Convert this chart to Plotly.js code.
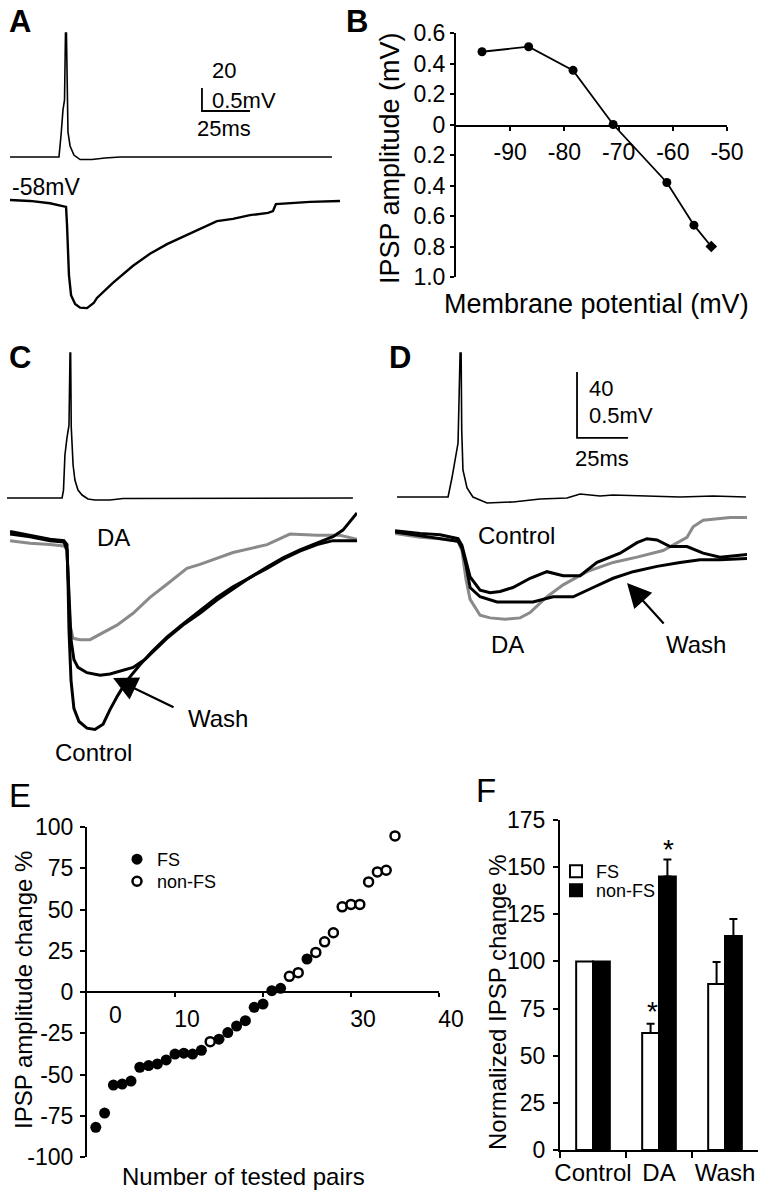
<!DOCTYPE html>
<html><head><meta charset="utf-8">
<script src="https://cdn.plot.ly/plotly-3.0.1.min.js"></script>
<style>html,body{margin:0;padding:0;background:#fff}</style>
</head><body>
<div id="chart" style="width:764px;height:1199px"></div>
<script>
// ================= DATA =================
// Panel A: paired recording, time (ms) / voltage (mV)
const aApTime   = [0, 25.5, 26.6, 27.6, 28.4, 28.9, 29.4, 29.7, 30.2, 31.3, 33.3, 36.5, 42.7, 49.5, 57.3, 167.7];
const aApVolt   = [0, 0, 19.1, 40.9, 49.6, 107.8, 107.8, 45.2, 21.7, 9.6, 1.7, -2.2, -2.2, -0.9, 0, 0];
const aIpspTime = [0, 10.4, 20.8, 27.6, 29.2, 29.7, 30.2, 30.7, 31.8, 33.9, 36.5, 40.1, 43.6, 45.3, 53.6, 64.1, 72.9, 81.8, 91.1, 99, 107.8, 116.1, 125, 134.4, 137, 138.5, 145.8, 156.3, 171.9];
const aIpspVolt = [0, -0.02, -0.07, -0.13, -0.15, -0.54, -1.09, -1.63, -2.07, -2.26, -2.34, -2.35, -2.24, -2.13, -1.80, -1.43, -1.17, -0.96, -0.78, -0.63, -0.46, -0.41, -0.33, -0.28, -0.24, -0.09, -0.07, -0.04, -0.02];

// Panel B: IPSP amplitude vs membrane potential
const bPotential = [-95.2, -86.6, -78.4, -71.0, -61.1, -56.1, -52.9];
const bAmplitude = [0.477, 0.51, 0.355, 0, -0.38, -0.66, -0.80];
const bYTickVals = [0.6, 0.4, 0.2, 0, -0.2, -0.4, -0.6, -0.8, -1.0];
const bYTickText = ['0.6', '0.4', '0.2', '0', '0.2', '0.4', '0.6', '0.8', '1.0'];
const bXTickVals = [-90, -80, -70, -60, -50];
const bXTickText = ['-90', '-80', '-70', '-60', '-50'];

// Panel C: FS pair (ms / mV)
const cApTime = [0, 27, 27.7, 28.4, 29.4, 30.4, 30.9, 31.2, 31.5, 32.4, 33.3, 34.8, 36.8, 39.7, 43.1, 50.5, 56.9, 169.6];
const cApVolt = [0, 0, 4.8, 26.1, 36.4, 44.2, 87.9, 87.9, 43, 20, 10.9, 4.8, 1.8, -0.6, -1.2, -1.2, -0.3, 0];
const cControlTime = [1.5, 11.3, 21.1, 27.9, 29.4, 29.9, 30.4, 31.4, 32.8, 35.3, 39.2, 43.1, 47.1, 50.5, 54.4, 58.8, 65.2, 71.1, 78.4, 86.3, 94.6, 102.9, 110.8, 119.1, 127.5, 135.3, 143.6, 152, 159.8, 164.7, 171.6];
const cControlVolt = [0.05, 0.02, -0.01, -0.02, -0.05, -0.32, -0.70, -1.08, -1.29, -1.39, -1.44, -1.45, -1.41, -1.30, -1.19, -1.08, -0.96, -0.86, -0.75, -0.65, -0.55, -0.45, -0.37, -0.30, -0.22, -0.15, -0.09, -0.04, 0.01, 0.06, 0.19];
const cWashTime = [1.5, 11.3, 21.1, 27.9, 29.4, 30.4, 31.4, 32.8, 34.8, 39.2, 45.6, 50.5, 55.4, 61.8, 67.6, 71.6, 78.4, 86.3, 94.6, 102.9, 110.8, 119.1, 127.5, 135.3, 143.6, 152, 159.8, 171.6];
const cWashVolt = [0.03, 0.01, -0.02, -0.03, -0.09, -0.47, -0.77, -0.92, -0.98, -1.02, -1.04, -1.03, -1.01, -0.98, -0.92, -0.86, -0.76, -0.66, -0.57, -0.47, -0.39, -0.30, -0.23, -0.16, -0.10, -0.05, -0.02, -0.02];
const cDaTime = [1.5, 11.3, 21.1, 27.9, 29.4, 30.4, 30.9, 32.4, 35.8, 40.7, 45.6, 53.9, 61.8, 70.1, 78.4, 88.2, 94.6, 110.8, 127.5, 138.7, 152, 163.2, 171.6];
const cDaVolt = [-0.02, -0.04, -0.05, -0.06, -0.09, -0.47, -0.66, -0.76, -0.77, -0.77, -0.73, -0.66, -0.57, -0.45, -0.35, -0.23, -0.20, -0.11, -0.05, 0.03, 0.02, 0.02, -0.01];

// Panel D: non-FS pair (ms / mV)
const dApTime = [1, 26, 27.9, 29.4, 30.9, 31.9, 32.4, 32.7, 33.3, 35.3, 38.2, 45.1, 57.8, 71.1, 84.3, 90.7, 100.5, 106.9, 123.5, 139.7, 155.9, 172];
const dApVolt = [0, 0, 11.5, 23.6, 32.7, 87.3, 87.3, 40.6, 16.4, 5.5, 0, -3.6, -3.0, -1.2, -0.6, 1.8, 0.6, 1.2, 0.6, 0, 0.6, 0];
const dDaTime = [0, 12.3, 22.1, 30.9, 32.8, 34.8, 36.8, 41.7, 46.6, 53.9, 61.3, 66.2, 74.5, 82.4, 94.1, 106.9, 118.6, 131.4, 143.1, 146.1, 151, 164.2, 172.5];
const dDaVolt = [0.02, -0.01, -0.02, -0.04, -0.11, -0.33, -0.48, -0.60, -0.62, -0.63, -0.62, -0.58, -0.46, -0.37, -0.27, -0.20, -0.16, -0.11, -0.01, 0.07, 0.12, 0.14, 0.14];
const dControlTime = [0, 12.3, 22.1, 30.9, 32.8, 34.8, 36.8, 41.7, 46.6, 51.5, 57.8, 66.2, 74.5, 82.4, 90.7, 99, 110.3, 118.6, 123.5, 128.4, 134.8, 143.1, 151, 159.3, 172.5];
const dControlVolt = [0.04, 0.02, 0.01, -0.02, -0.07, -0.18, -0.31, -0.41, -0.43, -0.42, -0.39, -0.32, -0.27, -0.30, -0.30, -0.20, -0.13, -0.05, -0.02, -0.03, -0.08, -0.08, -0.13, -0.16, -0.14];
const dWashTime = [0, 12.3, 22.1, 30.9, 32.8, 34.8, 36.8, 41.7, 50, 57.8, 67.6, 77.5, 87.3, 97.1, 106.9, 116.7, 128.4, 139.7, 149.5, 159.3, 172.5];
const dWashVolt = [0.03, 0, -0.02, -0.04, -0.09, -0.22, -0.39, -0.46, -0.50, -0.50, -0.50, -0.46, -0.46, -0.39, -0.32, -0.27, -0.23, -0.20, -0.18, -0.18, -0.17];

// Panel E: IPSP amplitude change per tested pair
const eFsPair = [1, 2, 3, 4, 5, 6, 7, 8, 9, 10, 11, 12, 13, 15, 16, 17, 18, 19, 20, 21, 22, 25];
const eFsChange = [-82, -73.4, -56.4, -55.8, -54, -45.6, -44.6, -43.6, -41.2, -37.6, -37.1, -37.6, -35.3, -28.6, -24.6, -20.6, -17.4, -9.3, -7.3, 0.8, 2.2, 20];
const eNonFsPair = [14, 23, 24, 26, 27, 28, 29, 30, 31, 32, 33, 34, 35];
const eNonFsChange = [-30.1, 9.5, 11.7, 24, 30.4, 35.9, 51.6, 53.1, 53.1, 66.7, 72.8, 73.8, 94.6];
const eYTickVals = [-100, -75, -50, -25, 0, 25, 50, 75, 100];
const eYTickText = ['-100', '-75', '-50', '-25', '0', '25', '50', '75', '100'];
const eXTickVals = [10, 20, 30, 40];
const eXTickText = ['10', '', '30', '40'];

// Panel F: normalized IPSP
const fConditions = ['Control', 'DA', 'Wash'];
const fFsMean = [100, 62, 88];
const fFsErr = [NaN, 5, 11.7];
const fNonFsMean = [100, 145, 113.5];
const fNonFsErr = [NaN, 9, 9];

// scale bars (size from the figure, anchor in trace units)
const scaleA = {t0: 100, v0: 40, dt: 25, dv: 20};
const scaleD = {t0: 89.2, v0: 35.8, dt: 25, dv: 40};

// ================= LAYOUT HELPERS =================
const W = 764, H = 1199;
const X = px => px / W;
const Y = py => 1 - py / H;
const dx = (a, b) => [X(a), X(b)];
const dy = (top, bottom) => [Y(bottom), Y(top)];
const FONT = 'Liberation Sans, Arial, Helvetica, sans-serif';
const hid = {visible: false, fixedrange: true, showgrid: false, zeroline: false};
const axStyle = {showline: true, linecolor: '#000', linewidth: 2, ticks: 'outside', tickcolor: '#000', tickwidth: 2,
  showgrid: false, zeroline: false, fixedrange: true, tickfont: {family: FONT, size: 23, color: '#000'}};

function note(text, px, py, size, o) {
  return Object.assign({text: text, x: X(px), y: Y(py), xref: 'paper', yref: 'paper', showarrow: false,
    xanchor: 'left', yanchor: 'middle', font: {family: FONT, size: size || 23, color: '#000'}}, o || {});
}
const line = (w, c) => ({color: c || '#000', width: w});
const L = (x, y, xa, ya, w, c) => ({x: x, y: y, xaxis: xa, yaxis: ya, mode: 'lines', line: line(w, c),
  showlegend: false, hoverinfo: 'skip'});

// ================= TRACES =================
const traces = [
  // A
  L(aApTime, aApVolt, 'x', 'y', 1.6),
  L(aIpspTime, aIpspVolt, 'x', 'y2', 2.4),
  L([scaleA.t0, scaleA.t0, scaleA.t0 + scaleA.dt], [scaleA.v0 + scaleA.dv, scaleA.v0, scaleA.v0], 'x', 'y', 1.8),
  // C
  L(cApTime, cApVolt, 'x2', 'y3', 1.6),
  L(cDaTime, cDaVolt, 'x2', 'y4', 3, '#8a8a8a'),
  L(cControlTime, cControlVolt, 'x2', 'y4', 3),
  L(cWashTime, cWashVolt, 'x2', 'y4', 3),
  // D
  L(dApTime, dApVolt, 'x3', 'y5', 1.6),
  L([scaleD.t0, scaleD.t0, scaleD.t0 + scaleD.dt], [scaleD.v0 + scaleD.dv, scaleD.v0, scaleD.v0], 'x3', 'y5', 1.8),
  L(dDaTime, dDaVolt, 'x3', 'y6', 3, '#8a8a8a'),
  L(dControlTime, dControlVolt, 'x3', 'y6', 3),
  L(dWashTime, dWashVolt, 'x3', 'y6', 3),
  // B
  {x: bPotential, y: bAmplitude, xaxis: 'x4', yaxis: 'y7', mode: 'lines+markers', showlegend: false, hoverinfo: 'skip',
   line: line(1.8), marker: {color: '#000', size: 9, symbol: ['circle', 'circle', 'circle', 'circle', 'circle', 'circle', 'diamond']}},
  // E
  {x: eFsPair, y: eFsChange, xaxis: 'x5', yaxis: 'y8', mode: 'markers', name: 'FS', legend: 'legend',
   marker: {color: '#000', size: 11, line: {color: '#000', width: 0}}, hoverinfo: 'skip'},
  {x: eNonFsPair, y: eNonFsChange, xaxis: 'x5', yaxis: 'y8', mode: 'markers', name: 'non-FS', legend: 'legend2',
   marker: {color: '#fff', size: 9, line: {color: '#000', width: 2.5}}, hoverinfo: 'skip'},
  // F
  {x: fConditions, y: fFsMean, type: 'bar', xaxis: 'x6', yaxis: 'y9', name: 'FS', legend: 'legend3',
   marker: {color: '#fff', line: {color: '#000', width: 2}}, hoverinfo: 'skip',
   error_y: {type: 'data', array: fFsErr, symmetric: false, color: '#000', thickness: 2, width: 4}},
  {x: fConditions, y: fNonFsMean, type: 'bar', xaxis: 'x6', yaxis: 'y9', name: 'non-FS', legend: 'legend4',
   marker: {color: '#000', line: {color: '#000', width: 2}}, hoverinfo: 'skip',
   error_y: {type: 'data', array: fNonFsErr, symmetric: false, color: '#000', thickness: 2, width: 4}}
];

const legendBase = {xanchor: 'left', yanchor: 'top', bgcolor: 'rgba(0,0,0,0)', borderwidth: 0,
  font: {family: FONT, size: 18, color: '#000'}, itemclick: false, itemdoubleclick: false};

const annotations = [
  // panel letters
  note('<b>A</b>', 7, 21, 31), note('<b>B</b>', 344, 21, 31),
  note('<b>C</b>', 7, 357, 31), note('<b>D</b>', 387, 357, 31),
  note('E', 7, 795, 33), note('F', 474, 790, 33),
  // A labels
  note('20', 210, 70, 22), note('0.5mV', 210, 100, 22), note('25ms', 195, 128, 22),
  note('-58mV', 10, 187, 23),
  // C labels
  note('DA', 113, 537, 24, {xanchor: 'center'}), note('Wash', 218, 718, 24, {xanchor: 'center'}),
  note('Control', 93, 752, 24, {xanchor: 'center'}),
  // D labels
  note('40', 587, 388, 22), note('0.5mV', 587, 415, 22), note('25ms', 573, 458, 22),
  note('Control', 516, 535, 24, {xanchor: 'center'}), note('DA', 507, 644, 24, {xanchor: 'center'}),
  note('Wash', 696, 644, 24, {xanchor: 'center'}),
  // arrows
  {x: 52, y: -1.06, xref: 'x2', yref: 'y4', ax: 62, ay: 30, text: '', showarrow: true,
   arrowhead: 2, arrowsize: 2.2, arrowwidth: 2.2, arrowcolor: '#000'},
  {x: 113.7, y: -0.356, xref: 'x3', yref: 'y6', ax: 38, ay: 42, text: '', showarrow: true,
   arrowhead: 2, arrowsize: 2.2, arrowwidth: 2.2, arrowcolor: '#000'},
  // axis titles
  note('IPSP amplitude (mV)', 390, 158, 27, {xanchor: 'center', textangle: -90}),
  note('Membrane potential (mV)', 596, 304, 27, {xanchor: 'center'}),
  note('IPSP amplitude change %', 23, 990, 24, {xanchor: 'center', textangle: -90}),
  note('Number of tested pairs', 243, 1176, 24, {xanchor: 'center'}),
  note('Normalized IPSP change %', 497, 1002, 24, {xanchor: 'center', textangle: -90}),
  note('0', 115, 1015, 23, {xanchor: 'center'}),
  // significance marks
  {x: 1, y: fFsMean[1] + fFsErr[1], xref: 'x6', yref: 'y9', xshift: -7, yshift: -5, yanchor: 'bottom',
   text: '*', showarrow: false, font: {family: FONT, size: 28, color: '#000'}},
  {x: 1, y: fNonFsMean[1] + fNonFsErr[1], xref: 'x6', yref: 'y9', xshift: 9, yshift: -7, yanchor: 'bottom',
   text: '*', showarrow: false, font: {family: FONT, size: 28, color: '#000'}}
];

const layout = {
  width: W, height: H, margin: {l: 0, r: 0, t: 0, b: 0}, paper_bgcolor: '#fff', plot_bgcolor: 'rgba(0,0,0,0)',
  font: {family: FONT, color: '#000'}, showlegend: true,
  // A
  xaxis: Object.assign({}, hid, {domain: dx(10, 340), range: [0, 171.9], anchor: 'y'}),
  yaxis: Object.assign({}, hid, {domain: dy(20, 170), range: [-11.3, 119.1], anchor: 'x'}),
  yaxis2: Object.assign({}, hid, {domain: dy(180, 320), range: [-2.609, 0.435], anchor: 'x'}),
  // C
  xaxis2: Object.assign({}, hid, {domain: dx(7, 357), range: [0, 171.6], anchor: 'y3'}),
  yaxis3: Object.assign({}, hid, {domain: dy(340, 510), range: [-7.27, 95.76], anchor: 'x2'}),
  yaxis4: Object.assign({}, hid, {domain: dy(505, 740), range: [-1.530, 0.25], anchor: 'x2'}),
  // D
  xaxis3: Object.assign({}, hid, {domain: dx(395, 747), range: [0, 172.5], anchor: 'y5'}),
  yaxis5: Object.assign({}, hid, {domain: dy(340, 510), range: [-7.88, 95.15], anchor: 'x3'}),
  yaxis6: Object.assign({}, hid, {domain: dy(505, 740), range: [-1.545, 0.235], anchor: 'x3'}),
  // B
  xaxis4: Object.assign({}, axStyle, {domain: dx(456, 727), range: [-100, -50], anchor: 'free', position: Y(125.5),
    tickvals: bXTickVals, ticktext: bXTickText, ticklen: 4, ticklabelstandoff: 2}),
  yaxis7: Object.assign({}, axStyle, {domain: dy(33, 277), range: [-1.0, 0.6], anchor: 'x4',
    tickvals: bYTickVals, ticktext: bYTickText, ticklen: 4, ticklabelstandoff: 0}),
  // E
  xaxis5: Object.assign({}, axStyle, {domain: dx(87, 439), range: [0, 40], anchor: 'free', position: Y(992),
    tickvals: eXTickVals, ticktext: eXTickText, ticklen: 4, ticklabelshift: 12, ticklabelstandoff: 2}),
  yaxis8: Object.assign({}, axStyle, {domain: dy(827, 1157), range: [-100, 100], anchor: 'x5',
    tickvals: eYTickVals, ticktext: eYTickText, ticklen: 5, ticklabelstandoff: 2}),
  // F
  xaxis6: Object.assign({}, axStyle, {domain: dx(560, 758), type: 'category', anchor: 'y9', tickson: 'boundaries',
    ticklen: 6, tickangle: 0, tickfont: {family: FONT, size: 24, color: '#000'}}),
  yaxis9: Object.assign({}, axStyle, {domain: dy(820, 1150), range: [0, 175], dtick: 25, anchor: 'x6', ticklen: 5,
    ticklabelstandoff: 3}),
  barmode: 'group', bargap: 0.49, bargroupgap: 0,
  legend: Object.assign({}, legendBase, {x: X(117), y: Y(841)}),
  legend2: Object.assign({}, legendBase, {x: X(117), y: Y(863)}),
  legend3: Object.assign({}, legendBase, {x: X(556), y: Y(853)}),
  legend4: Object.assign({}, legendBase, {x: X(556), y: Y(872)}),
  annotations: annotations
};

Plotly.newPlot('chart', traces, layout, {staticPlot: true, displayModeBar: false});
</script>
</body></html>
